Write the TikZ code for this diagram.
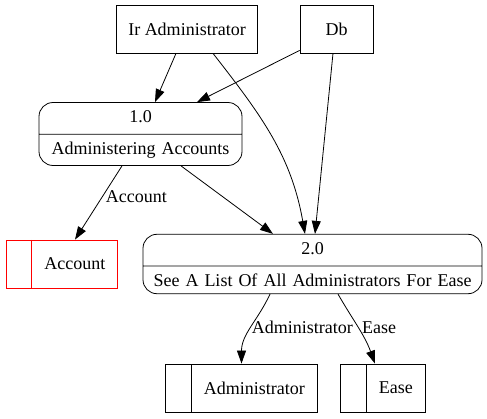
\documentclass[tikz,border=0pt]{standalone}
\usepackage{fontspec}
\setmainfont{Liberation Serif}
\usetikzlibrary{shapes.multipart,arrows.meta}

\begin{document}
\begin{tikzpicture}[
  x=1pt, y=-1pt,
  font=\fontsize{18}{21}\selectfont,
  line width=0.8pt,
  entity/.style={draw, minimum width=73pt, minimum height=48pt, inner xsep=12pt},
  proc/.style={draw, rounded corners=14pt, rectangle split, rectangle split parts=2, align=center, inner xsep=4pt, inner ysep=7pt, text height=13pt, text depth=4pt},
  store/.style={draw, rectangle split, rectangle split horizontal, rectangle split parts=2, inner xsep=12.5pt, inner ysep=15.5pt, text height=13pt, text depth=4pt},
  flow/.style={-{Triangle[length=13pt,width=9pt]}}
]
\useasboundingbox (0,0) rectangle (487,419);

\node[entity] (iradm) at (187,29) {Ir Administrator};
\node[entity] (db) at (336.5,29) {Db};
\node[proc, text width=195pt] (p1) at (140.5,134) {1.0\nodepart{two}Administering Accounts};
\node[proc, text width=331pt] (p2) at (312.5,264) {2.0\nodepart{two}See A List Of All Administrators For Ease};
\node[store, draw=red] (acct) at (62,264) {\nodepart{two}Account};
\node[store] (adm) at (241.5,388) {\nodepart{two}Administrator};
\node[store] (ease) at (383,388) {\nodepart{two}Ease};

\draw[flow] ([xshift=-11pt]iradm.south) -- ([xshift=14.5pt]p1.north);
\draw[flow] ([yshift=3pt]db.south west) -- ([xshift=56.5pt]p1.north);
\draw[flow] ([xshift=26pt]iradm.south) to[out=-52, in=100] ([xshift=-7.5pt]p2.north);
\draw[flow] ([xshift=-3.5pt]db.south) -- ([xshift=2.5pt]p2.north);
\draw[flow] ([xshift=40.5pt]p1.south) -- ([xshift=-39.5pt]p2.north);
\draw[flow] ([xshift=-18.5pt]p1.south) -- node[pos=0.42, right] {Account} ([xshift=13pt]acct.north);
\draw[flow] ([xshift=-42.5pt]p2.south) to[out=-115, in=90] node[pos=0.5, right, xshift=-3pt] {Administrator} (adm.north);
\draw[flow] ([xshift=25.5pt]p2.south) to[out=-60, in=110] node[pos=0.5, right] {Ease} ([xshift=-8pt]ease.north);
\end{tikzpicture}
\end{document}
